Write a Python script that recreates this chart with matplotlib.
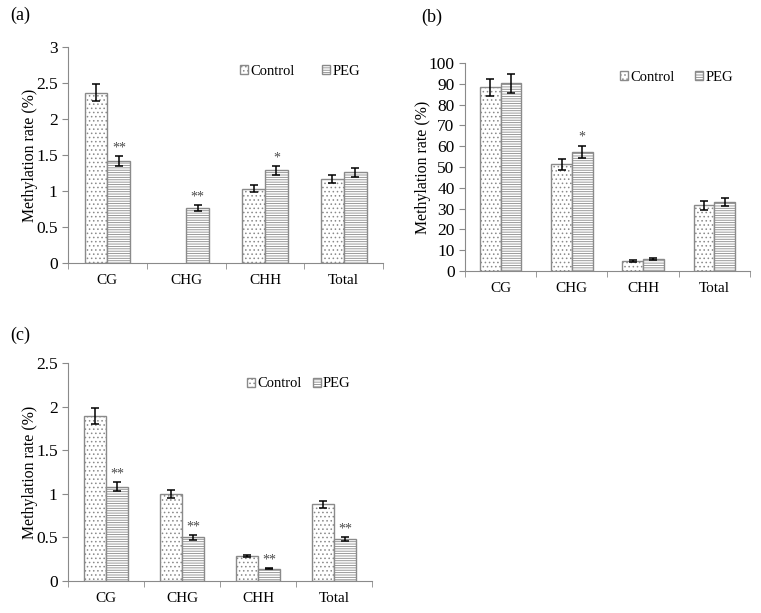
import matplotlib.pyplot as plt
import numpy as np

plt.rcParams['font.family'] = ['Liberation Serif', 'DejaVu Serif']
plt.rcParams['hatch.linewidth'] = 0.6

categories = ['CG', 'CHG', 'CHH', 'Total']

# panel (a)
a_control = [2.37, 0.0, 1.03, 1.17]
a_control_err = [0.12, 0.0, 0.05, 0.06]
a_peg = [1.42, 0.76, 1.29, 1.26]
a_peg_err = [0.07, 0.04, 0.06, 0.06]
a_stars = ['**', '**', '*', '']

# panel (b)
b_control = [88.3, 51.3, 4.7, 31.5]
b_control_err = [4.3, 2.7, 0.4, 2.0]
b_peg = [90.4, 57.3, 5.6, 33.3]
b_peg_err = [4.6, 3.0, 0.5, 2.0]
b_stars = ['', '*', '', '']

# panel (c)
c_control = [1.89, 1.00, 0.29, 0.88]
c_control_err = [0.09, 0.045, 0.012, 0.04]
c_peg = [1.08, 0.50, 0.14, 0.48]
c_peg_err = [0.05, 0.025, 0.008, 0.025]
c_stars = ['**', '**', '**', '**']

edge = '#8a8a8a'
star_color = '#4a4a4a'


def panel(ax, ctrl, ctrl_err, peg, peg_err, stars, ymax, ystep, star_gap,
          legend_pos, colspace, label, label_pos):
    x = np.arange(len(categories))
    w = 0.29
    ctrl_err = [e if v > 0 else np.nan for v, e in zip(ctrl, ctrl_err)]
    b1 = ax.bar(x - w / 2, ctrl, w, facecolor='white', edgecolor=edge, hatch='....',
                linewidth=1.0, label='Control')
    for p in b1.patches:
        if p.get_height() == 0:
            p.set_visible(False)
    ax.errorbar(x - w / 2, ctrl, yerr=ctrl_err, fmt='none', ecolor='black', elinewidth=1.1,
                capsize=3, capthick=1.1)
    ax.bar(x + w / 2, peg, w, facecolor='white', edgecolor=edge, hatch='-------',
           linewidth=1.0, label='PEG')
    ax.errorbar(x + w / 2, peg, yerr=peg_err, fmt='none', ecolor='black', elinewidth=1.1,
                capsize=3, capthick=1.1)
    for i, s in enumerate(stars):
        if s:
            ax.text(x[i] + w / 2, peg[i] + peg_err[i] + star_gap, s, ha='center', va='bottom',
                    fontsize=10, color=star_color)
    ax.set_xlim(-0.5, len(categories) - 0.5)
    ax.set_ylim(0, ymax)
    ax.set_yticks(np.arange(0, ymax + ystep / 2, ystep))
    ax.yaxis.set_major_formatter(plt.FuncFormatter(lambda v, p: ('%g' % round(v, 2))))
    ax.set_xticks(x)
    ax.set_xticklabels(categories)
    ax.set_xticks(np.arange(-0.5, len(categories), 1), minor=True)
    ax.tick_params(axis='x', which='major', length=0, pad=8, labelsize=11)
    ax.tick_params(axis='x', which='minor', length=4, color=edge)
    ax.tick_params(axis='y', length=4, color=edge, labelsize=12.5)
    for sp in ['top', 'right']:
        ax.spines[sp].set_visible(False)
    ax.spines['left'].set_color(edge)
    ax.spines['bottom'].set_color(edge)
    ax.set_ylabel('Methylation rate (%)', fontsize=11.4, labelpad=-1.5)
    ax.legend(loc='center left', bbox_to_anchor=legend_pos, ncol=2, frameon=False,
              fontsize=10.5, handlelength=0.55, handleheight=0.55, handletextpad=0.15,
              columnspacing=colspace, borderpad=0, borderaxespad=0)
    ax.figure.text(label_pos[0], label_pos[1], label, fontsize=13, ha='left', va='center')


fig = plt.figure(figsize=(7.61, 6.13), dpi=100)
ax_a = fig.add_axes([0.0894, 0.571, 0.414, 0.352])
ax_b = fig.add_axes([0.611, 0.558, 0.3745, 0.339])
ax_c = fig.add_axes([0.0894, 0.0522, 0.40, 0.3556])

panel(ax_a, a_control, a_control_err, a_peg, a_peg_err, a_stars, 3, 0.5, 0.02,
      (0.546, 0.889), 1.9, '(a)', (0.013, 0.975))
panel(ax_b, b_control, b_control_err, b_peg, b_peg_err, b_stars, 100, 10, 1.0,
      (0.544, 0.933), 1.4, '(b)', (0.553, 0.972))
panel(ax_c, c_control, c_control_err, c_peg, c_peg_err, c_stars, 2.5, 0.5, 0.02,
      (0.589, 0.904), 0.75, '(c)', (0.013, 0.453))

fig.savefig('out.png', dpi=100)
